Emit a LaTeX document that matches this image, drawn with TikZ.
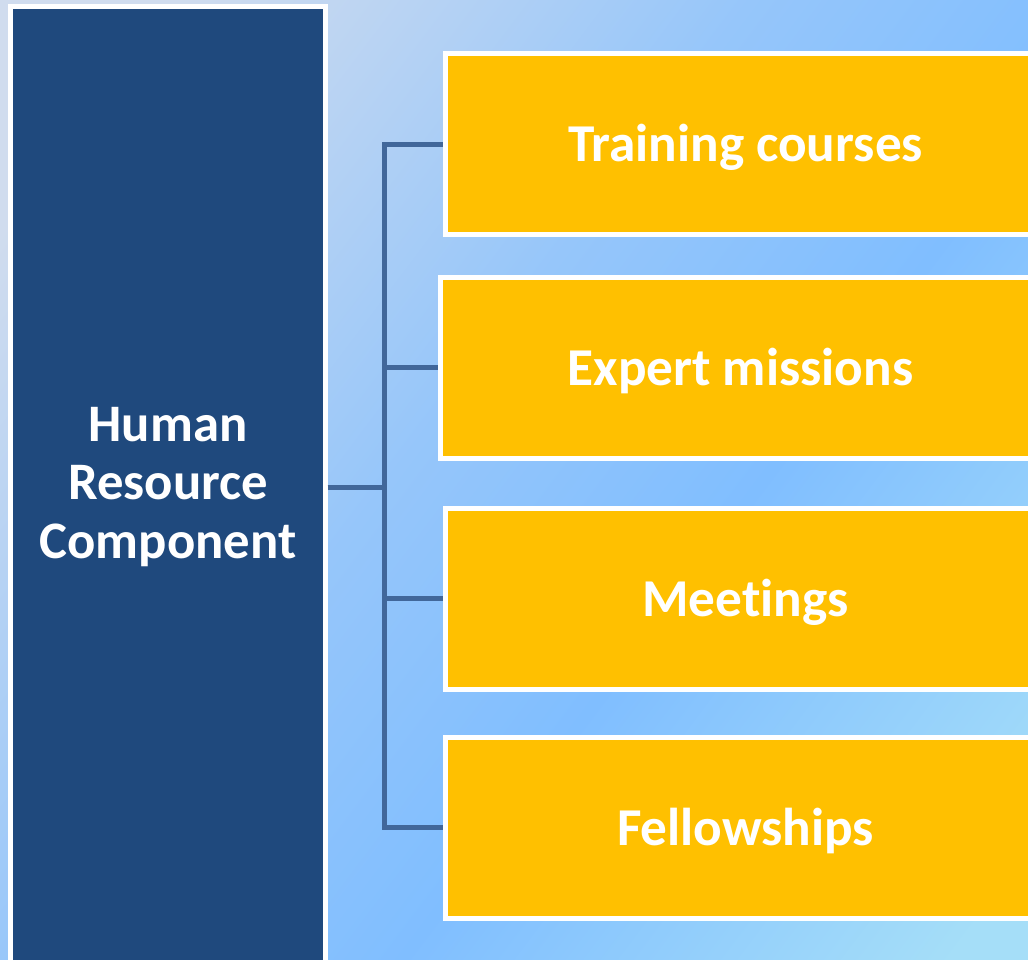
\documentclass[tikz,border=0pt]{standalone}
\usepackage{fontspec}
\setmainfont{Carlito}[Ligatures={NoCommon}]
\usepackage{xcolor}
\usepackage{tikz}
\usetikzlibrary{positioning}

\definecolor{bgA}{RGB}{208,220,238}
\definecolor{bgM}{RGB}{150,198,250}
\definecolor{bgB}{RGB}{128,190,255}
\definecolor{bgC}{RGB}{165,222,248}
\definecolor{navy}{RGB}{31,73,125}
\definecolor{amber}{RGB}{255,192,0}
\definecolor{linkblue}{RGB}{65,103,154}

\pgfdeclarehorizontalshading{bgshade}{100bp}{color(0bp)=(bgA); color(22bp)=(bgA); color(45bp)=(bgM); color(60bp)=(bgB); color(82bp)=(bgC); color(100bp)=(bgC)}

\begin{document}
\begin{tikzpicture}[
		x=0.02cm, y=-0.02cm,
		main/.style={rectangle, draw=white, fill=navy, line width=0.1cm, minimum width=6.3cm, minimum height=19.22cm, text=white, font=\fontsize{30}{33.3}\selectfont\bfseries, align=center},
		item/.style={rectangle, draw=white, fill=amber, line width=0.1cm, minimum width=12cm, minimum height=3.62cm, text height=0.72cm, text depth=0cm, text=white, font=\fontsize{30.3}{36}\selectfont\bfseries},
		link/.style={draw=linkblue, line width=0.1cm},
		]
		\useasboundingbox (0,0) rectangle (1028,960);
		\shade[shading=bgshade, shading angle=-37] (0,0) rectangle (1028,960);

		%Main Node
		\node[main]	(hrc)	at (168,487)	{Human\\Resource\\Component};

		%Items
		\node[item]	(courses)	at (745.5,144)	{Training courses};
		\node[item]	(missions)	[below=0.76cm of courses, xshift=-0.1cm]	{Expert missions};
		\node[item]	(meetings)	[below=0.9cm of missions, xshift=0.1cm]	{Meetings};
		\node[item]	(fellows)	[below=0.86cm of meetings]	{Fellowships};

		%Lines
		\coordinate (fork) at (384,487);
		\draw[link]	(hrc.east) -- (fork) |- (courses.west);
		\draw[link]	(hrc.east) -- (fork) |- (missions.west);
		\draw[link]	(hrc.east) -- (fork) |- (meetings.west);
		\draw[link]	(hrc.east) -- (fork) |- (fellows.west);

	\end{tikzpicture}
\end{document}
